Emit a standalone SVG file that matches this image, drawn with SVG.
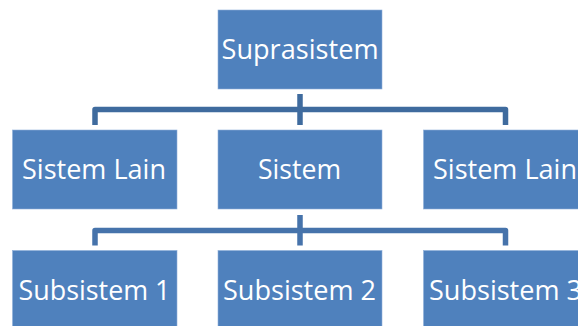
<svg xmlns="http://www.w3.org/2000/svg" width="578" height="326" viewBox="0 0 578 326">
<style>
.box{fill:#4F81BD;stroke:#8fb0d9;stroke-width:0.6}
.lbl{fill:#ffffff;font-family:"Open Sans","Noto Sans","DejaVu Sans",sans-serif;font-size:28px;text-anchor:middle}
.con{fill:none;stroke-width:5.5;stroke-linejoin:round}
</style>
<rect width="578" height="326" fill="#ffffff"/>
<g id="connectors">
<path class="con" stroke="#3F6B9E" d="M300,94 V125 M95,125 V109.5 H505.5 V125"/>
<path class="con" stroke="#4673AB" d="M300,215 V245.5 M95,245.5 V230.5 H505.5 V245.5"/>
</g>
<g id="suprasistem">
<rect class="box" x="218" y="10" width="164" height="79"/>
<text class="lbl" x="300" y="59" textLength="157" lengthAdjust="spacingAndGlyphs">Suprasistem</text>
</g>
<g id="sistem-lain-1">
<rect class="box" x="12.5" y="130" width="164.5" height="79"/>
<text class="lbl" x="94" y="179" textLength="144" lengthAdjust="spacingAndGlyphs">Sistem Lain</text>
</g>
<g id="sistem">
<rect class="box" x="218" y="130" width="164" height="79"/>
<text class="lbl" x="299.5" y="179" textLength="83" lengthAdjust="spacingAndGlyphs">Sistem</text>
</g>
<g id="sistem-lain-2">
<rect class="box" x="423.5" y="130" width="164" height="79"/>
<text class="lbl" x="505" y="179" textLength="144" lengthAdjust="spacingAndGlyphs">Sistem Lain</text>
</g>
<g id="subsistem-1">
<rect class="box" x="12.5" y="250.5" width="164.5" height="79"/>
<text class="lbl" x="94.5" y="300" textLength="152" lengthAdjust="spacingAndGlyphs">Subsistem 1</text>
</g>
<g id="subsistem-2">
<rect class="box" x="218" y="250.5" width="164" height="79"/>
<text class="lbl" x="299.5" y="300" textLength="153" lengthAdjust="spacingAndGlyphs">Subsistem 2</text>
</g>
<g id="subsistem-3">
<rect class="box" x="423.5" y="250.5" width="164" height="79"/>
<text class="lbl" x="505.5" y="300" textLength="153" lengthAdjust="spacingAndGlyphs">Subsistem 3</text>
</g>
</svg>
